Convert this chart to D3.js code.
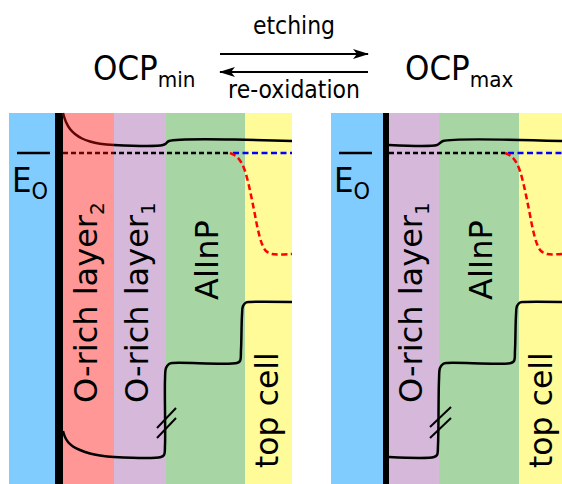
<!DOCTYPE html>
<html>
<head>
<meta charset="utf-8">
<script src="https://cdn.jsdelivr.net/npm/d3@7"></script>
<style>
  body { margin: 0; background: #fff; }
  svg { display: block; font-family: "DejaVu Sans", sans-serif; }
</style>
</head>
<body>
<svg width="562" height="484"></svg>
<script>
// layer boundaries (depth units, 0 = left edge of each panel)
var leftLayers = ["electrolyte", "contact", "O2", "O1", "AlInP", "top"];
var leftEdges = [0, 46, 54, 105, 157, 236, 283];
var rightLayers = ["electrolyte", "contact", "O1", "AlInP", "top"];
var rightEdges = [0, 52, 58, 108, 188, 231];

// band lines, [depth, energy] with energy counted downwards from panel top
var leftCB = [[54,0],[57,9],[61,16],[66,21],[73,25.5],[81,28.5],[91,30.7],[105,32],[154,32],[157,30.5],[160,28],[283,28]];
var leftEF = [[54,40],[221,40]];
var leftRed = [[221,40],[227,43],[232,49],[236,58],[240,73],[243,87],[246,102],[249,117],[253,131],[257,138],[263,141],[283,141]];
var leftBlue = [[224,40],[283,40]];
var leftVB = [[54,318],[56,324],[59,329],[64,333.5],[71,337],[81,340.5],[91,342.5],[105,344],[152,344],[155,342],[156,332],[156,267],[157,255],[160,251],[164,250],[228,250],[231,248],[232,237],[233,202],[234,193],[237,189.5],[241,189],[283,189]];
var leftBreak = [[[148,315],[167,295]], [[148,325],[167,305]]];

var rightCB = [[58,32],[106,32],[109,30],[112,28],[231,28]];
var rightEF = [[58,40],[174,40]];
var rightRed = [[174,40],[180,43],[185,49],[189,58],[193,73],[196,87],[199,102],[202,117],[206,131],[210,138],[216,141],[231,141]];
var rightBlue = [[177,40],[231,40]];
var rightVB = [[58,344],[103,344],[106,342],[107,332],[108,267],[109,255],[112,251],[116,250],[180,250],[183,248],[184,237],[185,202],[186,193],[189,189.5],[193,189],[231,189]];
var rightBreak = [[[99,314],[120,294]], [[99,325],[120,305]]];

var eoLevel = [[8,40],[41,40]];

var layerColor = {
  electrolyte: "#80ccff",
  contact: "#000000",
  O2: "#ff9797",
  O1: "#d5b8da",
  AlInP: "#a7d5a4",
  top: "#fffb99"
};

var svg = d3.select("svg");

// arrow heads
var defs = svg.append("defs");
defs.append("marker")
    .attr("id", "head")
    .attr("viewBox", "0 0 16 10")
    .attr("refX", 15).attr("refY", 5)
    .attr("markerWidth", 16).attr("markerHeight", 10)
    .attr("markerUnits", "userSpaceOnUse")
    .attr("orient", "auto")
  .append("path")
    .attr("d", "M0,0 L16,5 L0,10 L4,5 Z")
    .attr("fill", "#000");

// header
svg.append("line").attr("x1", 220).attr("x2", 368).attr("y1", 54).attr("y2", 54)
    .attr("stroke", "#000").attr("stroke-width", 2.2).attr("marker-end", "url(#head)");
svg.append("line").attr("x1", 368).attr("x2", 220).attr("y1", 72).attr("y2", 72)
    .attr("stroke", "#000").attr("stroke-width", 2.2).attr("marker-end", "url(#head)");

// horizontal texts in the original are a bit taller than wide
function stretched(x, y) {
  return svg.append("text")
      .attr("transform", "translate(" + x + "," + y + ") scale(1,1.1)");
}

stretched(294, 34).attr("text-anchor", "middle").attr("font-size", 22).text("etching");
stretched(294, 98).attr("text-anchor", "middle").attr("font-size", 22).text("re-oxidation");

function ocp(x, sub) {
  var t = stretched(x, 80).attr("font-size", 31);
  t.append("tspan").text("OCP");
  t.append("tspan").attr("font-size", 20).attr("dy", 6).text(sub);
}
ocp(93, "min");
ocp(405, "max");

var scaleY = d3.scaleLinear().domain([0, 371]).range([113, 484]);

function panel(x0, layers, edges, cb, ef, red, blue, vb, brk, labels, red2dark) {
  var scaleX = d3.scaleLinear().domain([0, edges[edges.length - 1]])
      .range([x0, x0 + edges[edges.length - 1]]);
  var g = svg.append("g");

  g.selectAll("rect")
      .data(layers)
      .enter().append("rect")
      .attr("x", function(d, i) { return scaleX(edges[i]); })
      .attr("width", function(d, i) { return scaleX(edges[i + 1]) - scaleX(edges[i]); })
      .attr("y", scaleY(0))
      .attr("height", scaleY(371) - scaleY(0))
      .attr("fill", function(d) { return layerColor[d]; });

  var line = d3.line()
      .x(function(d) { return scaleX(d[0]); })
      .y(function(d) { return scaleY(d[1]); })
      .curve(d3.curveCatmullRom.alpha(0.5));

  var stroke = "#000";
  if (red2dark) {
    // lines over the O-rich layer 2 look dark red
    var id = "grad" + x0;
    var edge = (scaleX(edges[3]) - scaleX(0)) / (scaleX(edges[edges.length - 1]) - scaleX(0));
    var gr = defs.append("linearGradient").attr("id", id)
        .attr("gradientUnits", "userSpaceOnUse")
        .attr("x1", scaleX(0)).attr("x2", scaleX(edges[edges.length - 1]))
        .attr("y1", 0).attr("y2", 0);
    gr.append("stop").attr("offset", edge).attr("stop-color", "#5e0505");
    gr.append("stop").attr("offset", edge).attr("stop-color", "#000");
    stroke = "url(#" + id + ")";
  }

  g.append("path").attr("d", line(cb)).attr("fill", "none")
      .attr("stroke", stroke).attr("stroke-width", 2.5);
  g.append("line")
      .attr("x1", scaleX(ef[0][0])).attr("x2", scaleX(ef[1][0]))
      .attr("y1", scaleY(ef[0][1])).attr("y2", scaleY(ef[1][1]))
      .attr("stroke", stroke).attr("stroke-width", 2.5).attr("stroke-dasharray", "5,3");
  g.append("line")
      .attr("x1", scaleX(blue[0][0])).attr("x2", scaleX(blue[1][0]))
      .attr("y1", scaleY(blue[0][1])).attr("y2", scaleY(blue[1][1]))
      .attr("stroke", "#0000ff").attr("stroke-width", 2.5).attr("stroke-dasharray", "6,3.5");
  g.append("path").attr("d", line(red)).attr("fill", "none")
      .attr("stroke", "#ff0000").attr("stroke-width", 2.5).attr("stroke-dasharray", "6,3.5");
  g.append("path").attr("d", line(vb)).attr("fill", "none")
      .attr("stroke", "#000").attr("stroke-width", 2.5);

  g.selectAll(".brk")
      .data(brk)
      .enter().append("line")
      .attr("class", "brk")
      .attr("x1", function(d) { return scaleX(d[0][0]); })
      .attr("y1", function(d) { return scaleY(d[0][1]); })
      .attr("x2", function(d) { return scaleX(d[1][0]); })
      .attr("y2", function(d) { return scaleY(d[1][1]); })
      .attr("stroke", "#000").attr("stroke-width", 2);

  // E_O level
  g.append("line")
      .attr("x1", scaleX(eoLevel[0][0])).attr("x2", scaleX(eoLevel[1][0]))
      .attr("y1", scaleY(eoLevel[0][1])).attr("y2", scaleY(eoLevel[1][1]))
      .attr("stroke", "#000").attr("stroke-width", 2.5);
  var eo = g.append("text")
      .attr("transform", "translate(" + scaleX(3) + ",192) scale(1,1.1)")
      .attr("font-size", 31);
  eo.append("tspan").text("E");
  eo.append("tspan").attr("font-size", 21).attr("dy", 6).text("O");

  // layer labels, rotated
  labels.forEach(function(l) {
    var t = g.append("text")
        .attr("transform", "translate(" + l.x + "," + l.y + ") rotate(-90)")
        .attr("font-size", l.size);
    t.append("tspan").text(l.text);
    if (l.sub) t.append("tspan").attr("font-size", 20).attr("dy", 7).text(l.sub);
  });
}

panel(9, leftLayers, leftEdges, leftCB, leftEF, leftRed, leftBlue, leftVB, leftBreak, [
  {x: 97, y: 403, text: "O-rich layer", sub: "2", size: 32},
  {x: 148, y: 403, text: "O-rich layer", sub: "1", size: 32},
  {x: 218, y: 300, text: "AlInP", size: 32},
  {x: 278, y: 468, text: "top cell", size: 31.5}
], true);

panel(331, rightLayers, rightEdges, rightCB, rightEF, rightRed, rightBlue, rightVB, rightBreak, [
  {x: 422, y: 403, text: "O-rich layer", sub: "1", size: 32},
  {x: 492, y: 300, text: "AlInP", size: 32},
  {x: 552, y: 468, text: "top cell", size: 31.5}
], false);
</script>
</body>
</html>
